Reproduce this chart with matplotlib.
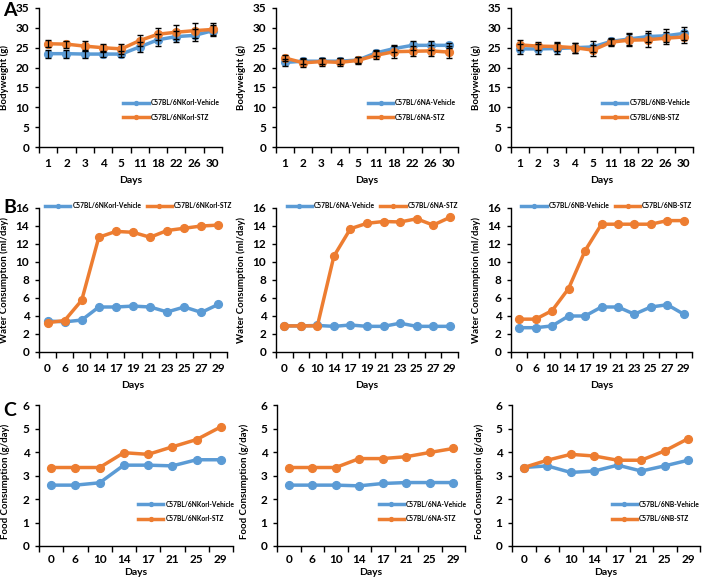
import matplotlib.pyplot as plt
from matplotlib.ticker import FixedLocator, NullFormatter
import numpy as np

plt.rcParams['font.family'] = ['Lato', 'DejaVu Sans']
plt.rcParams['font.weight'] = 'bold'

BLUE = '#5B9BD5'
ORANGE = '#ED7D31'

# Row A: body weight
days_a = ['1', '2', '3', '4', '5', '11', '18', '22', '26', '30']
bw_korl_veh = [23.5, 23.5, 23.4, 23.4, 23.4, 25.2, 27.0, 27.8, 28.1, 29.3]
bw_korl_veh_err = [1.0, 1.0, 1.0, 0.7, 0.7, 1.2, 1.5, 1.3, 1.5, 1.3]
bw_korl_stz = [26.0, 25.9, 25.4, 25.0, 24.7, 26.8, 28.4, 28.9, 29.3, 29.6]
bw_korl_stz_err = [0.9, 0.9, 1.2, 1.0, 1.2, 1.4, 1.5, 1.8, 1.8, 1.5]
bw_na_veh = [21.3, 21.6, 21.6, 21.6, 21.9, 23.7, 24.8, 25.6, 25.6, 25.6]
bw_na_veh_err = [0.8, 0.8, 0.8, 0.8, 0.8, 0.8, 1.0, 1.1, 1.1, 0.6]
bw_na_stz = [22.4, 21.2, 21.5, 21.3, 21.8, 23.1, 24.0, 24.1, 24.2, 23.9]
bw_na_stz_err = [0.8, 1.0, 1.0, 1.0, 0.9, 1.0, 1.5, 1.3, 1.4, 1.5]
bw_nb_veh = [24.7, 24.7, 24.8, 25.0, 25.2, 26.6, 27.2, 27.8, 28.0, 28.6]
bw_nb_veh_err = [1.3, 1.3, 1.3, 1.3, 1.4, 0.9, 1.5, 1.3, 1.6, 1.6]
bw_nb_stz = [25.7, 25.4, 25.3, 25.0, 24.4, 26.4, 26.9, 27.0, 27.4, 27.7]
bw_nb_stz_err = [1.2, 1.0, 1.2, 1.3, 1.4, 0.9, 1.5, 1.7, 1.5, 1.6]

# Row B: water consumption
days_b = ['0', '6', '10', '14', '17', '19', '21', '23', '25', '27', '29']
wc_korl_veh = [3.45, 3.35, 3.55, 5.0, 5.0, 5.1, 5.0, 4.45, 5.0, 4.4, 5.3]
wc_korl_stz = [3.25, 3.5, 5.75, 12.75, 13.4, 13.3, 12.75, 13.5, 13.75, 14.0, 14.1]
wc_na_veh = [2.9, 2.9, 2.95, 2.85, 3.0, 2.85, 2.85, 3.2, 2.85, 2.85, 2.85]
wc_na_stz = [2.9, 2.9, 2.9, 10.65, 13.7, 14.3, 14.5, 14.45, 14.8, 14.1, 14.95]
wc_nb_veh = [2.7, 2.7, 2.9, 4.0, 4.0, 5.0, 5.0, 4.2, 5.0, 5.25, 4.2]
wc_nb_stz = [3.65, 3.65, 4.6, 7.05, 11.25, 14.2, 14.2, 14.2, 14.2, 14.6, 14.6]

# Row C: food consumption
days_c = ['0', '6', '10', '14', '17', '21', '25', '29']
fc_korl_veh = [2.59, 2.59, 2.69, 3.44, 3.44, 3.41, 3.67, 3.67]
fc_korl_stz = [3.34, 3.34, 3.34, 3.97, 3.90, 4.22, 4.53, 5.07]
fc_na_veh = [2.59, 2.59, 2.59, 2.56, 2.66, 2.70, 2.70, 2.70]
fc_na_stz = [3.34, 3.34, 3.34, 3.72, 3.72, 3.80, 3.98, 4.15]
fc_nb_veh = [3.34, 3.41, 3.13, 3.19, 3.44, 3.19, 3.41, 3.65]
fc_nb_stz = [3.34, 3.65, 3.90, 3.83, 3.65, 3.65, 4.05, 4.57]

strains = ['6NKorl', '6NA', '6NB']

W, H = 703, 578
fig = plt.figure(figsize=(W / 100, H / 100), dpi=100)


def add_ax(left, top, right, bottom):
    return fig.add_axes([left / W, 1 - bottom / H, (right - left) / W, (bottom - top) / H])


def style(ax, cats, ymax, ystep, ylabel, xpad=8, xlabpad=5):
    n = len(cats)
    ax.set_xlim(-0.5, n - 0.5)
    ax.set_ylim(0, ymax)
    ax.set_xticks(range(n))
    ax.set_xticklabels(cats)
    ax.xaxis.set_minor_locator(FixedLocator(np.arange(-0.5, n, 1.0)))
    ax.xaxis.set_minor_formatter(NullFormatter())
    ax.tick_params(axis='x', which='major', length=0, pad=xpad, labelsize=8.5)
    ax.tick_params(axis='x', which='minor', length=4, width=1, direction='out')
    ax.set_yticks(np.arange(0, ymax + 0.01, ystep))
    ax.tick_params(axis='y', length=3, width=1, labelsize=8.5, pad=4)
    for s in ('top', 'right'):
        ax.spines[s].set_visible(False)
    for s in ('left', 'bottom'):
        ax.spines[s].set_linewidth(1)
    ax.set_xlabel('Days', fontsize=7.5, fontweight='bold', labelpad=xlabpad)
    ax.set_ylabel(ylabel, fontsize=6.9, fontweight='bold', labelpad=5)
    for lab in ax.get_xticklabels() + ax.get_yticklabels():
        lab.set_fontweight('bold')


def lines(ax, veh, stz, strain, veh_err=None, stz_err=None):
    x = np.arange(len(veh))
    ax.plot(x, veh, '-o', color=BLUE, lw=2.5, ms=5.6, label=f'C57BL/{strain}-Vehicle', zorder=3)
    ax.plot(x, stz, '-o', color=ORANGE, lw=2.5, ms=5.6, label=f'C57BL/{strain}-STZ', zorder=4)
    if veh_err is not None:
        ax.errorbar(x, veh, yerr=veh_err, fmt='none', ecolor='black', elinewidth=0.9, capsize=2.2, zorder=5)
        ax.errorbar(x, stz, yerr=stz_err, fmt='none', ecolor='black', elinewidth=0.9, capsize=2.2, zorder=5)


def side_legend(ax, x, y):
    leg = ax.legend(loc='center left', bbox_to_anchor=(x, y), frameon=False,
                    fontsize=4.8, handlelength=3.8, labelspacing=1.1, handletextpad=0.3,
                    markerscale=0.5, borderpad=0, borderaxespad=0)
    for t in leg.get_texts():
        t.set_fontweight('bold')


# Row A
a_pos = [(39, 8, 222, 147), (276, 8, 458, 147), (511, 8, 693, 147)]
a_leg_x = [0.46, 0.505, 0.5]
a_data = [(bw_korl_veh, bw_korl_stz, bw_korl_veh_err, bw_korl_stz_err),
          (bw_na_veh, bw_na_stz, bw_na_veh_err, bw_na_stz_err),
          (bw_nb_veh, bw_nb_stz, bw_nb_veh_err, bw_nb_stz_err)]
for pos, d, st, lx in zip(a_pos, a_data, strains, a_leg_x):
    ax = add_ax(*pos)
    lines(ax, d[0], d[1], st, d[2], d[3])
    style(ax, days_a, 35, 5, 'Bodyweight (g)')
    side_legend(ax, lx, 0.265)

# Row B
b_pos = [(39, 208, 227, 352), (276, 208, 458, 352), (511, 208, 692, 352)]
b_data = [(wc_korl_veh, wc_korl_stz), (wc_na_veh, wc_na_stz), (wc_nb_veh, wc_nb_stz)]
for pos, d, st in zip(b_pos, b_data, strains):
    ax = add_ax(*pos)
    lines(ax, d[0], d[1], st)
    style(ax, days_b, 16, 2, 'Water Consumption (ml/day)')
    leg = ax.legend(loc='center', bbox_to_anchor=(0.53, 1.015), ncol=2, frameon=False,
                    fontsize=4.8, handlelength=3.8, columnspacing=0.8, handletextpad=0.3,
                    markerscale=0.5, borderpad=0, borderaxespad=0)
    for t in leg.get_texts():
        t.set_fontweight('bold')

# Row C
c_pos = [(39, 405, 233, 546), (277, 405, 465, 546), (512, 405, 700, 546)]
c_leg_x = [0.51, 0.54, 0.53]
c_data = [(fc_korl_veh, fc_korl_stz), (fc_na_veh, fc_na_stz), (fc_nb_veh, fc_nb_stz)]
for pos, d, st, lx in zip(c_pos, c_data, strains, c_leg_x):
    ax = add_ax(*pos)
    lines(ax, d[0], d[1], st)
    style(ax, days_c, 6, 1, 'Food Consumption (g/day)', xpad=6, xlabpad=2)
    ax.yaxis.set_label_coords(-0.15, 0.46)
    side_legend(ax, lx, 0.245)

for letter, y in (('A', 16), ('B', 213), ('C', 416)):
    fig.text(3 / W, 1 - y / H, letter, fontsize=14, fontweight='bold', va='baseline', ha='left')

fig.savefig('out.png', dpi=100)
